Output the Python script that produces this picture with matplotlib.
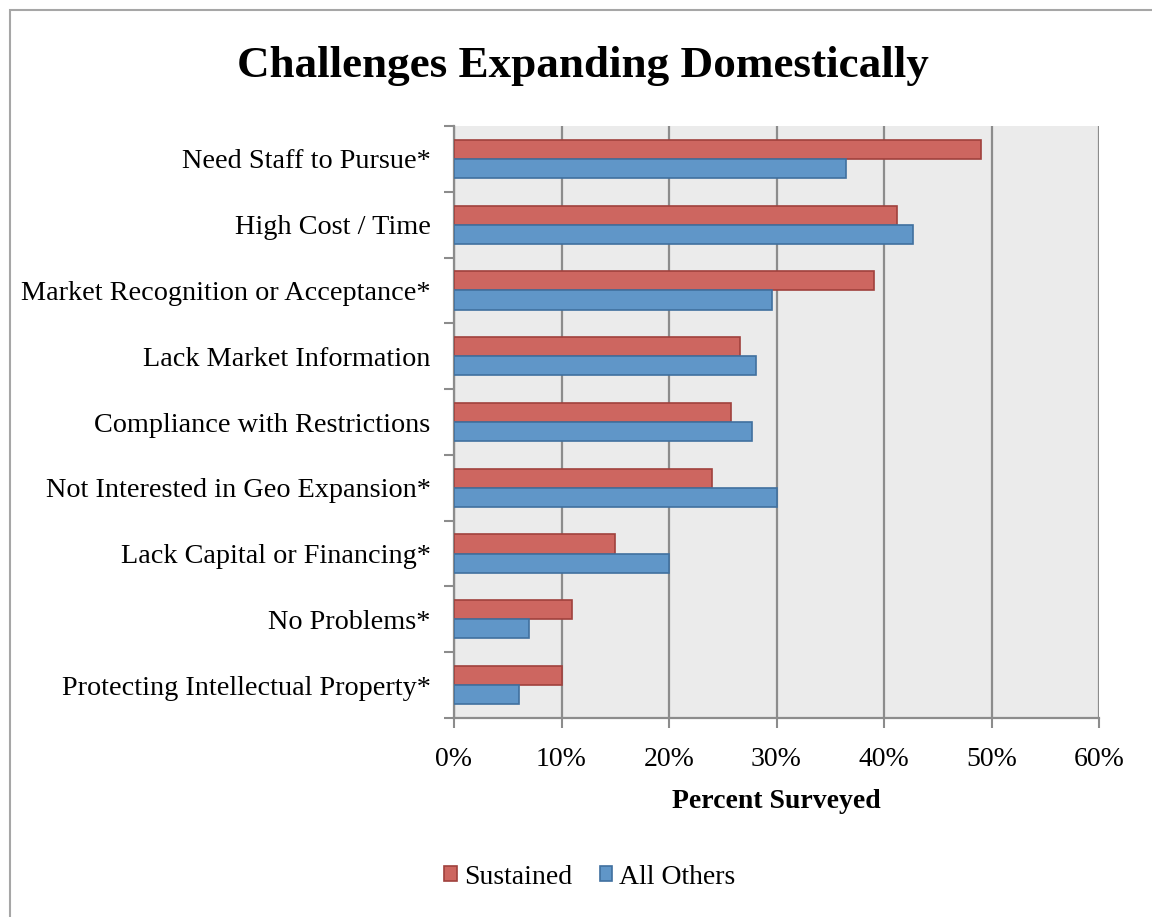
import matplotlib.pyplot as plt
from matplotlib.patches import Rectangle
import numpy as np

# Survey results, percent of respondents
categories = ['Need Staff to Pursue*', 'High Cost / Time', 'Market Recognition or Acceptance*',
              'Lack Market Information', 'Compliance with Restrictions',
              'Not Interested in Geo Expansion*', 'Lack Capital or Financing*',
              'No Problems*', 'Protecting Intellectual Property*']
sustained = [49.0, 41.2, 39.1, 26.6, 25.8, 24.0, 15.0, 11.0, 10.0]
all_others = [36.5, 42.7, 29.6, 28.1, 27.7, 30.0, 20.0, 7.0, 6.0]
x_ticks = [0, 10, 20, 30, 40, 50, 60]

plt.rcParams['font.family'] = ['Liberation Serif', 'DejaVu Serif']

fig = plt.figure(figsize=(11.52, 9.17), dpi=100)
ax = fig.add_axes([454 / 1152, 1 - 718 / 917, 645 / 1152, 592 / 917])

# outer chart frame
fig.patches.append(Rectangle((10 / 1152, -0.05), 1.2, 1 - 10 / 917 + 0.05,
                             transform=fig.transFigure, fill=False,
                             edgecolor='#a6a6a6', linewidth=1.5))

n = len(categories)
y = np.arange(n)[::-1].astype(float)
h = 0.29
ax.barh(y + h / 2, sustained, height=h, color='#CD6660', edgecolor='#A0413D',
        linewidth=1.2, label='Sustained', zorder=3)
ax.barh(y - h / 2, all_others, height=h, color='#6096C8', edgecolor='#40709F',
        linewidth=1.2, label='All Others', zorder=3)

ax.set_facecolor('#ebebeb')
ax.set_xlim(0, 60)
ax.set_ylim(-0.5, n - 0.5)
ax.set_xticks(x_ticks)
ax.set_xticklabels([f'{t}%' for t in x_ticks], fontsize=20)
ax.xaxis.grid(True, color='#8c8c8c', linewidth=1.6, zorder=0)
ax.set_axisbelow(True)

# category labels centred on groups, ticks on group boundaries
ax.set_yticks(y)
ax.set_yticklabels(categories, fontsize=20.3)
ax.set_yticks(np.arange(n + 1) - 0.5, minor=True)
ax.tick_params(axis='y', which='major', length=0, pad=17)
ax.tick_params(axis='y', which='minor', length=7, width=1.5, color='#8c8c8c')
ax.tick_params(axis='x', length=7, width=1.5, color='#8c8c8c', pad=14)

for side in ['top', 'right']:
    ax.spines[side].set_visible(False)
for side in ['left', 'bottom']:
    ax.spines[side].set_color('#8c8c8c')
    ax.spines[side].set_linewidth(1.6)

ax.set_xlabel('Percent Surveyed', fontsize=20, fontweight='bold', labelpad=12)
fig.text(583 / 1152, 1 - 66 / 917, 'Challenges Expanding Domestically',
         ha='center', va='center', fontsize=32.5, fontweight='bold')

ax.legend(loc='center', bbox_to_anchor=(590 / 1152, 1 - 877 / 917),
          bbox_transform=fig.transFigure, ncol=2, frameon=False, fontsize=20,
          handlelength=0.45, handleheight=0.45, handletextpad=0.25, columnspacing=1.0)

fig.savefig('out.png', dpi=100)
